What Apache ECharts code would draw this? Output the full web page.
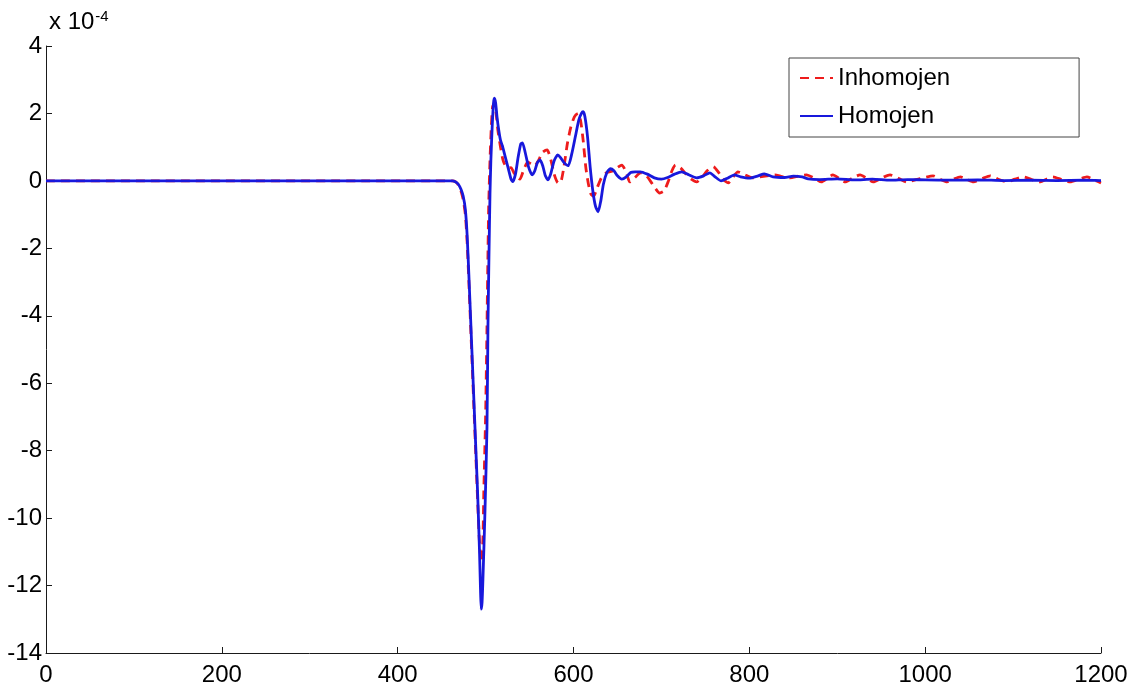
<!DOCTYPE html>
<html>
<head>
<meta charset="utf-8">
<script src="https://cdn.jsdelivr.net/npm/echarts@6/dist/echarts.min.js"></script>
<style>
  html, body { margin: 0; padding: 0; background: #fff; }
  #chart { width: 1131px; height: 691px; }
</style>
</head>
<body>
<div id="chart"></div>
<script>
// Waveforms, amplitude in units of 1e-4
const seriesNames = ['Inhomojen', 'Homojen'];

const inhX = [0, 440, 462, 466, 469, 472, 474.5, 477, 479, 481, 483, 485, 487, 489, 491, 493, 494.5, 495.5, 497, 498, 500, 501.5, 502.5, 503.5, 505, 506.5, 508, 510, 512, 514, 517, 520, 524, 529, 534, 539, 543, 548, 552, 556, 560, 565, 570, 574, 578, 582, 585, 589, 593, 597, 601, 605, 608, 611, 614, 617, 620, 623, 627, 632, 638, 645, 650, 655, 660, 664, 670, 676, 683, 690, 698, 703, 708, 712, 716, 722, 728, 734, 740, 746, 752, 759, 765, 770, 776, 781, 787, 795, 804, 812, 820, 829, 837, 846, 856, 865, 874, 882, 889, 895, 902, 909, 917, 926, 934, 941, 950, 960, 970, 979, 994, 1009, 1017, 1025, 1032, 1040, 1047, 1055, 1065, 1074, 1083, 1093, 1102, 1112, 1121, 1131, 1138, 1145, 1155, 1165, 1175, 1184, 1192, 1200];
const inhY = [0, 0, 0, -0.03, -0.12, -0.3, -0.55, -1.0, -1.8, -3.0, -4.3, -5.6, -6.9, -8.2, -9.5, -10.7, -11.2, -11.3, -10.6, -9.2, -7.0, -4.5, -2.5, -0.8, 0.6, 1.6, 2.2, 2.3, 2.0, 1.5, 1.0, 0.6, 0.4, 0.39, 0.15, 0.05, 0.3, 0.56, 0.5, 0.45, 0.6, 0.85, 0.92, 0.65, 0.2, -0.05, -0.06, 0.4, 1.1, 1.6, 1.9, 2.0, 1.8, 1.2, 0.4, -0.1, -0.4, -0.45, -0.2, 0.1, 0.25, 0.3, 0.4, 0.47, 0.25, -0.03, 0.1, 0.24, 0.15, -0.1, -0.36, -0.3, 0, 0.3, 0.47, 0.38, 0.2, 0.05, -0.03, 0.1, 0.3, 0.42, 0.25, 0.05, -0.06, 0.1, 0.27, 0.18, 0.09, 0.12, 0.15, 0.18, 0.13, 0.09, 0.14, 0.18, 0.08, -0.03, 0.08, 0.18, 0.08, -0.03, 0.08, 0.18, 0.07, -0.03, 0.08, 0.18, 0.07, -0.03, 0.07, 0.15, 0.05, -0.03, 0.05, 0.12, 0.05, -0.03, 0.07, 0.15, 0.05, -0.03, 0.05, 0.12, 0.04, -0.03, 0.05, 0.12, 0.04, -0.03, 0.05, 0.12, 0.03, -0.06];

const homX = [0, 440, 462, 466, 469, 472, 474.5, 477, 479, 481, 483, 485, 487, 489, 491, 493, 494.2, 495, 496, 497, 499.3, 501.6, 502.7, 503.8, 505, 506, 507.5, 509, 510, 511.5, 513, 515, 517, 519, 522, 526, 529, 531, 534, 537, 540, 542, 545, 549, 553, 556, 559, 562, 565, 568, 571, 574, 578, 582, 585, 589, 594, 598, 602, 606, 609, 611, 613, 616, 619, 622, 625, 628, 631, 634, 638, 642, 646, 650, 655, 660, 665, 670, 676, 684, 692, 700, 707, 715, 723, 731, 740, 748, 755, 761, 768, 775, 783, 790, 800, 810, 817, 827, 840, 850, 860, 867, 880, 900, 920, 940, 960, 980, 1000, 1030, 1060, 1090, 1120, 1150, 1180, 1200];
const homY = [0, 0, 0, -0.03, -0.1, -0.25, -0.45, -0.85, -1.6, -2.8, -4.1, -5.4, -6.7, -8.0, -9.3, -10.9, -12.1, -12.7, -12.5, -11.8, -9.8, -7.3, -4.3, -2.3, -0.4, 0.6, 1.6, 2.3, 2.45, 2.3, 1.9, 1.5, 1.2, 1.05, 0.75, 0.35, 0.05, -0.02, 0.2, 0.7, 1.1, 1.13, 0.85, 0.4, 0.18, 0.3, 0.55, 0.62, 0.45, 0.15, 0.03, 0.2, 0.6, 0.77, 0.7, 0.55, 0.45, 0.8, 1.3, 1.8, 2.0, 2.05, 1.9, 1.3, 0.4, -0.3, -0.75, -0.92, -0.6, -0.1, 0.25, 0.36, 0.3, 0.15, 0.05, 0.12, 0.25, 0.27, 0.27, 0.2, 0.09, 0.05, 0.1, 0.2, 0.27, 0.18, 0.09, 0.15, 0.24, 0.12, 0, 0.08, 0.18, 0.12, 0.08, 0.15, 0.21, 0.12, 0.1, 0.14, 0.12, 0.06, 0.04, 0.06, 0.03, 0.05, 0.02, 0.04, 0.03, 0.02, 0.03, 0.01, 0.02, 0.01, 0.02, 0.01];

const xTicks = { min: 0, max: 1200, step: 200 };
const yTicks = { min: -14, max: 4, step: 2 };

const pairs = (xs, ys) => xs.map((x, i) => [x, ys[i]]);

const FONT = '"Liberation Sans", Arial, sans-serif';
const FS = 24;
const axisColor = '#1a1a1a';

const chart = echarts.init(document.getElementById('chart'), null, { renderer: 'canvas' });
chart.setOption({
  animation: false,
  backgroundColor: '#ffffff',
  title: {
    text: '{a|x 10}{b|-4}',
    left: 44,
    top: 4,
    textStyle: {
      fontWeight: 'normal',
      rich: {
        a: { fontFamily: FONT, fontSize: FS, fontWeight: 'normal', color: '#000', verticalAlign: 'bottom' },
        b: { fontFamily: FONT, fontSize: 15, fontWeight: 'normal', color: '#000', verticalAlign: 'top', padding: [0, 0, 10, 1] }
      }
    }
  },
  legend: {
    orient: 'vertical',
    left: 789,
    top: 58,
    itemWidth: 33,
    itemHeight: 14,
    itemGap: 14,
    padding: [8, 129, 9, 10],
    borderColor: '#444',
    borderWidth: 1,
    itemStyle: { opacity: 0 },
    textStyle: { fontFamily: FONT, fontSize: FS, color: '#000' },
    data: seriesNames
  },
  grid: { left: 46, right: 30, top: 46, bottom: 38, containLabel: false },
  xAxis: {
    type: 'value',
    min: xTicks.min,
    max: xTicks.max,
    interval: xTicks.step,
    axisLine: { show: true, onZero: false, lineStyle: { color: axisColor, width: 1 } },
    axisTick: { show: true, inside: true, length: 6, lineStyle: { color: axisColor } },
    axisLabel: { fontFamily: FONT, fontSize: FS, color: '#000', margin: 10, formatter: v => String(v) },
    splitLine: { show: false }
  },
  yAxis: {
    type: 'value',
    min: yTicks.min,
    max: yTicks.max,
    interval: yTicks.step,
    axisLine: { show: true, onZero: false, lineStyle: { color: axisColor, width: 1 } },
    axisTick: { show: true, inside: true, length: 6, lineStyle: { color: axisColor } },
    axisLabel: { fontFamily: FONT, fontSize: FS, color: '#000', margin: 4, formatter: v => String(v) },
    splitLine: { show: false }
  },
  series: [
    {
      name: seriesNames[0],
      type: 'line',
      data: pairs(inhX, inhY),
      symbol: 'none',
      smooth: 0.2,
      color: '#ee1c1c',
      lineStyle: { color: '#ee1c1c', width: 2.8, type: [9, 6] },
      z: 2
    },
    {
      name: seriesNames[1],
      type: 'line',
      data: pairs(homX, homY),
      symbol: 'none',
      smooth: 0.2,
      color: '#1818dc',
      lineStyle: { color: '#1818dc', width: 2.8 },
      z: 3
    }
  ]
});
</script>
</body>
</html>
